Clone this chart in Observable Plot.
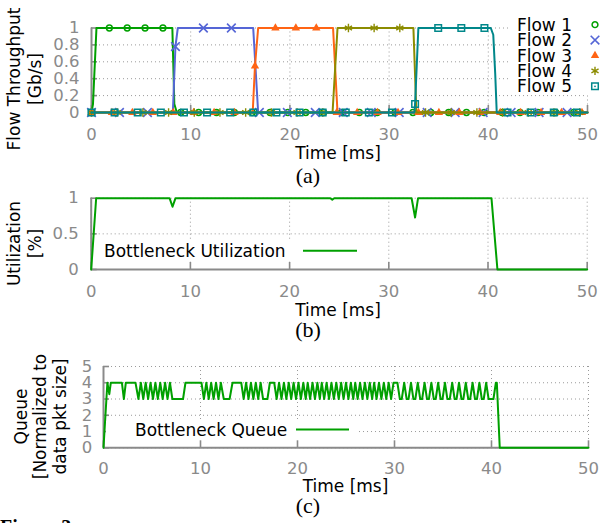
<!DOCTYPE html>
<html>
<head>
<meta charset="utf-8">
<script src="https://cdn.jsdelivr.net/npm/d3@7"></script>
<script src="https://cdn.jsdelivr.net/npm/@observablehq/plot@0.6"></script>
<style>
html, body { margin:0; padding:0; background:#fff; overflow:hidden; }
#root { position:relative; width:601px; height:523px; overflow:hidden; background:#fff; }
#root > svg { position:absolute; left:0; }
</style>
</head>
<body>
<div id="root"></div>
<script>
// ---------- data ----------
const xTicks = [0, 10, 20, 30, 40, 50];
const yTicksA = [0, 0.2, 0.4, 0.6, 0.8, 1];
const yTicksB = [0, 0.5, 1];
const yTicksC = [0, 1, 2, 3, 4, 5];

const flowNames = ["Flow 1", "Flow 2", "Flow 3", "Flow 4", "Flow 5"];
const flowColors = ["#00a000", "#5566d6", "#ff6414", "#8c8c00", "#00878a"];
const flowSymbols = ["circle", "times", "triangle", "asterisk", "square"];

// throughput lines (time ms, Gb/s)
const flow1T = [0, 0.15, 0.5, 8.15, 8.35, 8.6, 50];
const flow1V = [0, 0.1, 1, 1, 0.1, 0, 0];
const flow2T = [0, 8.2, 8.46, 8.7, 16.3, 16.8, 50];
const flow2V = [0, 0, 0.78, 1, 1, 0, 0];
const flow3T = [0, 16.25, 16.48, 16.8, 24.35, 24.8, 50];
const flow3V = [0, 0, 0.55, 1, 1, 0, 0];
const flow4T = [0, 24.3, 24.8, 32.45, 32.75, 50];
const flow4V = [0, 0, 1, 1, 0, 0];
const flow5T = [0, 32.55, 32.62, 32.95, 40.25, 40.5, 40.7, 40.85, 50];
const flow5V = [0, 0, 0.1, 1, 1, 0.92, 0.45, 0, 0];

// marker samples
const flow1MarkT = [0, 1.8, 3.6, 5.4, 7.2, 9.0, 10.8, 12.6, 14.4, 16.2, 18.0, 19.8, 21.6, 23.4, 25.2, 27.0, 28.8, 30.6, 32.4, 34.2, 36.0, 37.8, 39.6, 41.4, 43.2, 45.0, 46.8, 48.6];
const flow1MarkV = [0, 1, 1, 1, 1, 0, 0, 0, 0, 0, 0, 0, 0, 0, 0, 0, 0, 0, 0, 0, 0, 0, 0, 0, 0, 0, 0, 0];
const flow2MarkT = [0, 2.82, 5.64, 8.46, 11.28, 14.1, 16.92, 19.74, 22.56, 25.38, 28.2, 31.02, 33.84, 36.66, 39.48, 42.3, 45.12, 47.94];
const flow2MarkV = [0, 0, 0, 0.78, 1, 1, 0, 0, 0, 0, 0, 0, 0, 0, 0, 0, 0, 0];
const flow3MarkT = [0, 2.06, 4.12, 6.18, 8.24, 10.3, 12.36, 14.42, 16.48, 18.54, 20.6, 22.66, 24.72, 26.78, 28.84, 30.9, 32.96, 35.02, 37.08, 39.14, 41.2, 43.26, 45.32, 47.38, 49.44];
const flow3MarkV = [0, 0, 0, 0, 0, 0, 0, 0, 0.55, 1, 1, 1, 0, 0, 0, 0, 0, 0, 0, 0, 0, 0, 0, 0, 0];
const flow4MarkT = [0, 2.59, 5.18, 7.77, 10.36, 12.95, 15.54, 18.13, 20.72, 23.31, 25.9, 28.49, 31.08, 33.67, 36.26, 38.85, 41.44, 44.03, 46.62, 49.21];
const flow4MarkV = [0, 0, 0, 0, 0, 0, 0, 0, 0, 0, 1, 1, 1, 0, 0, 0, 0, 0, 0, 0];
const flow5MarkT = [0, 2.33, 4.66, 6.99, 9.32, 11.65, 13.98, 16.31, 18.64, 20.97, 23.3, 25.63, 27.96, 30.29, 32.62, 34.95, 37.28, 39.61, 41.94, 44.27, 46.6, 48.93];
const flow5MarkV = [0, 0, 0, 0, 0, 0, 0, 0, 0, 0, 0, 0, 0, 0, 0.1, 1, 1, 1, 0, 0, 0, 0];

// bottleneck utilization
const utilT = [0, 0.5, 7.9, 8.2, 8.5, 24.1, 24.3, 24.5, 32.3, 32.65, 32.95, 40.35, 40.95, 50];
const utilV = [0, 1, 1, 0.88, 1, 1, 0.98, 1, 1, 0.73, 1, 1, 0, 0];

// bottleneck queue (packets)
const queueT = [
  0, 0.4, 0.6, 0.75, 1.9, 2.1, 2.3, 3.3,
  3.6, 3.85, 4.1, 4.35, 4.6, 4.85, 5.1, 5.35, 5.6, 5.85, 6.1, 6.35, 6.6, 6.85, 7.1,
  8.2, 8.45, 10.1,
  10.35, 10.6, 10.85, 11.1, 11.35, 11.6, 11.85, 12.1, 12.4, 13.0, 13.3, 14.2,
  14.45, 14.7, 14.95, 15.2, 15.45, 15.7, 15.95, 16.2, 16.45, 16.9, 17.15, 17.6,
  17.85, 18.1, 18.35, 18.6, 18.85, 19.1, 19.35, 19.6, 19.85, 20.1,
  20.35, 20.6, 20.85, 21.05, 21.3, 21.55, 21.8, 22.05, 22.3, 22.5,
  22.75, 23.0, 23.25, 23.5, 23.75, 24.0, 24.25, 24.5, 24.75, 25.0,
  25.25, 25.5, 25.75, 25.95, 26.2, 26.45, 26.7, 26.95, 27.2, 27.45,
  27.7, 27.9, 28.15, 28.4, 28.65, 28.9, 29.15, 29.4, 29.65, 29.9,
  30.3,
  30.55, 30.75, 31.0, 31.25, 31.45, 31.7, 31.95, 32.15, 32.4, 32.65, 32.85, 33.1,
  33.35, 33.55, 33.8, 34.05, 34.25, 34.5, 34.75, 34.95, 35.2, 35.45, 35.7, 35.95,
  36.2, 36.4, 36.65, 36.9, 37.1, 37.35, 37.6, 37.8, 38.05, 38.3, 38.5, 38.75,
  39.0, 39.2, 39.45, 39.7, 40.2, 40.45, 40.55, 40.85, 50
];
const queueV = [
  0, 4, 3.3, 4, 4, 3, 4, 4,
  3, 4, 3, 4, 3, 4, 3, 4, 3, 4, 3, 4, 3, 4, 3,
  3, 4, 4,
  3, 4, 3, 4, 3, 4, 3, 4, 3, 3, 4, 4,
  3, 4, 3, 4, 3, 4, 3, 4, 3, 3, 4, 4,
  3, 4, 3, 4, 3, 4, 3, 4, 3, 4,
  3, 4, 3, 4, 3, 4, 3, 4, 3, 4,
  3, 4, 3, 4, 3, 4, 3, 4, 3, 4,
  3, 4, 3, 4, 3, 4, 3, 4, 3, 4,
  3, 4, 3, 4, 3, 4, 3, 4, 3, 4,
  4,
  3, 3, 4, 3, 3, 4, 3, 3, 4, 3, 3, 4,
  3, 3, 4, 3, 3, 4, 3, 3, 4, 3, 3, 4,
  3, 3, 4, 3, 3, 4, 3, 3, 4, 3, 3, 4,
  3, 3, 4, 3, 3, 4, 4, 0, 0
];

// ---------- helpers ----------
const FONT = "DejaVu Sans";
const TICKGRAY = "#8a8a8a";
const GRID = "#9a9a9a";
const GREEN = "#00a000";
const rows = (T, V) => T.map((t, i) => ({t, v: V[i]}));
const fmt = d => String(d);

function frameMarks(xT, yT, xPad, yPad) {
  return [
    Plot.gridX(xT, {stroke: GRID, strokeOpacity: 1, strokeWidth: 1, strokeDasharray: "1,3"}),
    Plot.gridY(yT, {stroke: GRID, strokeOpacity: 1, strokeWidth: 1, strokeDasharray: "1,3"}),
    Plot.ruleX([0], {stroke: TICKGRAY, strokeWidth: 2}),
    Plot.ruleY([0], {stroke: TICKGRAY, strokeWidth: 2}),
    Plot.axisX(xT, {anchor: "bottom", tickSize: -7, tickPadding: xPad, stroke: TICKGRAY, strokeWidth: 1.6,
      fill: TICKGRAY, fontSize: 16.5, tickFormat: fmt, label: null}),
    Plot.axisY(yT, {anchor: "left", tickSize: -6, tickPadding: yPad, stroke: TICKGRAY, strokeWidth: 1.6,
      fill: TICKGRAY, fontSize: 16.5, tickFormat: fmt, label: null})
  ];
}
const plotStyle = {fontFamily: FONT, fontSize: "16.5px", background: "transparent", overflow: "visible"};

const root = document.getElementById("root");

// ---------- panel (a) ----------
const lineSets = [[flow1T, flow1V], [flow2T, flow2V], [flow3T, flow3V], [flow4T, flow4V], [flow5T, flow5V]];
const markSets = [[flow1MarkT, flow1MarkV], [flow2MarkT, flow2MarkV], [flow3MarkT, flow3MarkV], [flow4MarkT, flow4MarkV], [flow5MarkT, flow5MarkV]];
const symR = [2.9, 4, 3.1, 3.9, 3.7];
const symW = [1.5, 1.6, 0, 1.4, 1.5];

const flowMarks = [];
lineSets.forEach(([T, V], i) => {
  const c = flowColors[i];
  flowMarks.push(Plot.line(rows(T, V), {x: "t", y: "v", stroke: c, strokeWidth: 2}));
  const md = rows(markSets[i][0], markSets[i][1]);
  if (flowSymbols[i] === "triangle") {
    flowMarks.push(Plot.dot(md, {x: "t", y: "v", symbol: "triangle", r: symR[i], fill: c, stroke: "none"}));
  } else {
    flowMarks.push(Plot.dot(md, {x: "t", y: "v", symbol: flowSymbols[i], r: symR[i], fill: "none", stroke: c, strokeWidth: symW[i]}));
  }
  if (flowSymbols[i] === "square") {
    flowMarks.push(Plot.dot(md, {x: "t", y: "v", r: 0.9, fill: c, stroke: "none"}));
  }
});

const svgA = Plot.plot({
  width: 601, height: 165,
  marginTop: 27.5, marginBottom: 53, marginLeft: 91, marginRight: 14,
  x: {domain: [0, 50]}, y: {domain: [0, 1]},
  style: plotStyle,
  marks: [...frameMarks(xTicks, yTicksA, 23, 18), ...flowMarks]
});
svgA.style.top = "0px";
root.append(svgA);

// ---------- panel (b) ----------
const svgB = Plot.plot({
  width: 601, height: 140,
  marginTop: 17.7, marginBottom: 51, marginLeft: 90.7, marginRight: 14.3,
  x: {domain: [0, 50]}, y: {domain: [0, 1]},
  style: plotStyle,
  marks: [...frameMarks(xTicks, yTicksB, 23, 18.4),
    Plot.line(rows(utilT, utilV), {x: "t", y: "v", stroke: GREEN, strokeWidth: 2})]
});
svgB.style.top = "180px";
root.append(svgB);

// ---------- panel (c) ----------
const svgC = Plot.plot({
  width: 601, height: 160,
  marginTop: 26, marginBottom: 52.7, marginLeft: 103, marginRight: 13,
  x: {domain: [0, 50]}, y: {domain: [0, 5]},
  style: plotStyle,
  marks: [...frameMarks(xTicks, yTicksC, 21.5, 17.3),
    Plot.line(rows(queueT, queueV), {x: "t", y: "v", stroke: GREEN, strokeWidth: 2})]
});
svgC.style.top = "340px";
root.append(svgC);

// ---------- overlay: titles, legends, captions ----------
const ov = d3.create("svg")
  .attr("width", 601).attr("height", 523)
  .style("top", "0px")
  .attr("font-family", FONT).attr("font-size", 17).attr("fill", "#000");

function ytitle(lines, baselines, cy) {
  lines.forEach((s, i) => {
    ov.append("text").attr("x", baselines[i]).attr("y", cy)
      .attr("text-anchor", "middle")
      .attr("transform", `rotate(-90 ${baselines[i]} ${cy})`)
      .text(s);
  });
}
ytitle(["Flow Throughput", "[Gb/s]"], [19.5, 41], 79);
ytitle(["Utilization", "[%]"], [19.5, 41], 243.5);
ytitle(["Queue", "[Normalized to", "data pkt size]"], [27.4, 46.4, 66.1], 416.5);

function xtitle(cx, base) {
  ov.append("text").attr("x", cx).attr("y", base).attr("text-anchor", "middle").text("Time [ms]");
}
xtitle(338, 159.2);
xtitle(338, 315.7);
xtitle(345.5, 492.4);

function caption(s, base) {
  ov.append("text").attr("x", 308).attr("y", base).attr("text-anchor", "middle")
    .attr("font-family", "Liberation Serif").attr("font-size", 22).text(s);
}
caption("(a)", 182.5);
caption("(b)", 337);
caption("(c)", 513);

ov.append("text").attr("x", 0).attr("y", 533.5).attr("font-family", "Liberation Serif")
  .attr("font-weight", "bold").attr("font-size", 20).text("Figure 3:");

// legend (a)
ov.append("rect").attr("x", 511).attr("y", 14).attr("width", 90).attr("height", 81).attr("fill", "#fff");
const legBase = [30.7, 46.1, 61.5, 76.9, 92.3];
const d3sym = {circle: d3.symbolCircle, times: d3.symbolTimes, triangle: d3.symbolTriangle, asterisk: d3.symbolAsterisk, square: d3.symbolSquare};
flowNames.forEach((name, i) => {
  ov.append("text").attr("x", 572).attr("y", legBase[i]).attr("text-anchor", "end").text(name);
  const c = flowColors[i];
  const p = ov.append("path")
    .attr("transform", `translate(595,${legBase[i] - 6})`)
    .attr("d", d3.symbol(d3sym[flowSymbols[i]], symR[i] * symR[i] * Math.PI)());
  if (flowSymbols[i] === "triangle") p.attr("fill", c);
  else p.attr("fill", "none").attr("stroke", c).attr("stroke-width", symW[i]);
  if (flowSymbols[i] === "square") {
    ov.append("circle").attr("cx", 595).attr("cy", legBase[i] - 6).attr("r", 0.9).attr("fill", c);
  }
});

// legend (b)
ov.append("rect").attr("x", 96).attr("y", 241).attr("width", 266).attr("height", 20).attr("fill", "#fff");
ov.append("text").attr("x", 104).attr("y", 256.9).text("Bottleneck Utilization");
ov.append("line").attr("x1", 303).attr("x2", 357).attr("y1", 250.7).attr("y2", 250.7)
  .attr("stroke", GREEN).attr("stroke-width", 2);

// legend (c)
ov.append("rect").attr("x", 106).attr("y", 421).attr("width", 252).attr("height", 19).attr("fill", "#fff");
ov.append("text").attr("x", 135).attr("y", 436.2).text("Bottleneck Queue");
ov.append("line").attr("x1", 296).attr("x2", 349).attr("y1", 429.5).attr("y2", 429.5)
  .attr("stroke", GREEN).attr("stroke-width", 2);

root.append(ov.node());
</script>
</body>
</html>
